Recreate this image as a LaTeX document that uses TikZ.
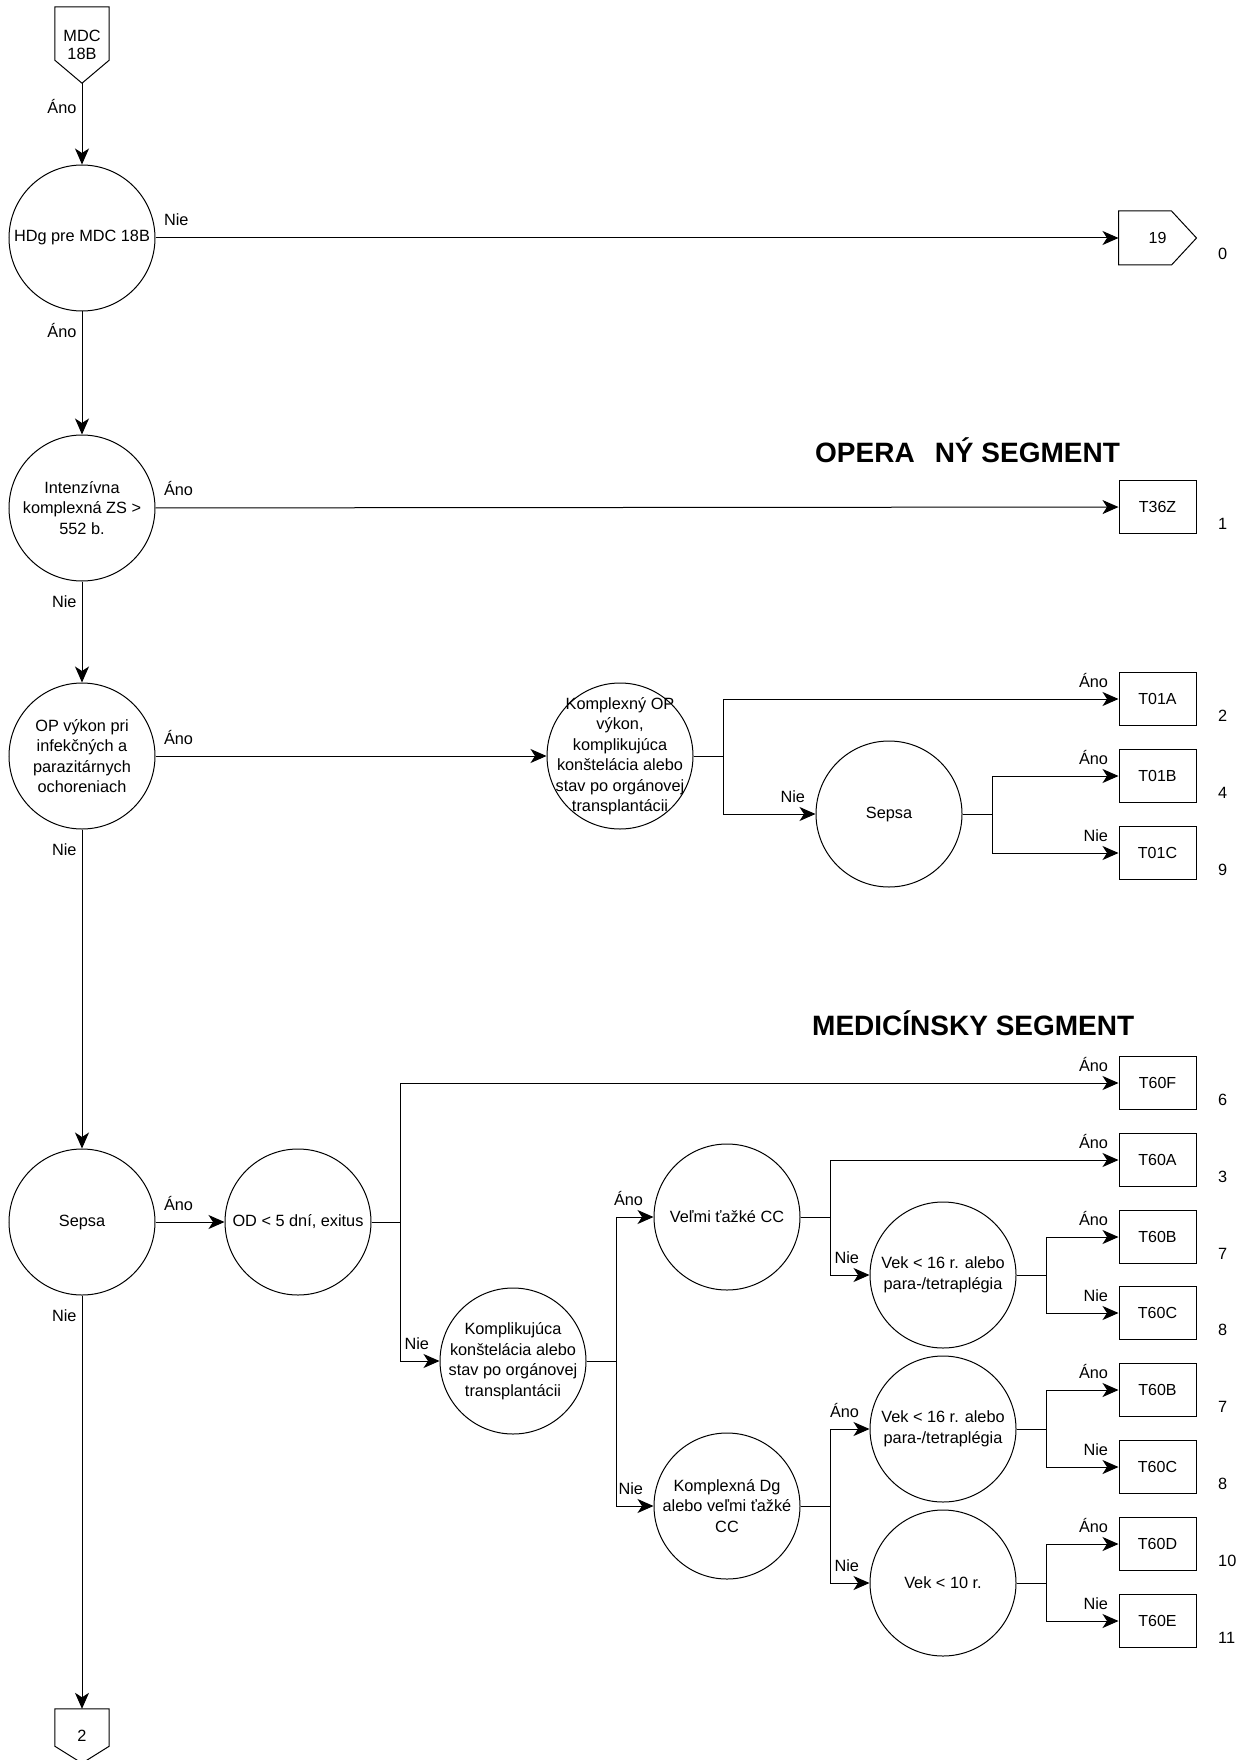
\documentclass[tikz,border=0pt]{standalone}
\usepackage{fontspec}
\setmainfont{Liberation Sans}
\usetikzlibrary{positioning, arrows.meta}

\begin{document}
\begin{tikzpicture}[
            x=1pt, y=-1pt,
            font=\fontsize{16.3}{20.5}\selectfont,
            dec/.style={draw, circle, minimum size=146pt, inner sep=-15pt, align=center, line width=1pt},
            grp/.style={draw, minimum width=77pt, minimum height=53pt, inner sep=0pt, font=\fontsize{16}{19}\selectfont, line width=1pt},
            offpage/.style={minimum width=54pt, inner sep=0pt, align=center, font=\fontsize{16.3}{18.5}\selectfont},
            num/.style={anchor=base west, inner sep=0pt},
            segment/.style={anchor=base west, inner sep=0pt, font=\fontsize{28}{30}\selectfont\bfseries},
            arrow/.style={-{Stealth[length=16pt, width=14pt, inset=4.5pt]}, line width=1pt},
            lblstart/.style={pos=0, anchor=base west, inner sep=0pt, xshift=8pt, yshift=12pt},
            lblend/.style={pos=1, anchor=base east, inner sep=0pt, xshift=-10pt, yshift=12pt},
            lbldown/.style={pos=0, anchor=base east, inner sep=0pt, xshift=-5pt, yshift=-26pt}
        ]
            \fill[white] (0,0) rectangle (1249,1760);
            \useasboundingbox (0,0) rectangle (1249,1760);

            % hlavny stlpec
            \node[offpage, minimum height=76pt] (mdc) at (82,45) {MDC\\18B};
            \draw[line width=1pt] (mdc.north west) -- (mdc.north east) -- ([yshift=23pt]mdc.south east) -- (mdc.south) -- ([yshift=23pt]mdc.south west) -- cycle;
            \node[dec] (hdg) at (82,238) {HDg pre MDC 18B};
            \node[dec] (izs) at (82,508) {Intenzívna\\komplexná ZS >\\552 b.};
            \node[dec] (opv) at (82,756) {OP výkon pri\\infekčných a\\parazitárnych\\ochoreniach};
            \node[dec] (sepm) at (82,1222) {Sepsa};
            \node[offpage, minimum height=54pt] (p2) at (82,1736) {2};
            \draw[line width=1pt] (p2.north west) -- (p2.north east) -- ([yshift=17pt]p2.south east) -- (p2.south) -- ([yshift=17pt]p2.south west) -- cycle;

            % operacny segment
            \node[segment] (opseg) at (815,462) {OPERA\hspace{20pt}NÝ SEGMENT};
            \node[dec] (kop) at (620,756) {Komplexný OP\\výkon,\\komplikujúca\\konštelácia alebo\\stav po orgánovej\\transplantácii};
            \node[dec] (sep1) at (889,814) {Sepsa};

            % medicinsky segment
            \node[segment] (medseg) at (812,1035) {MEDICÍNSKY SEGMENT};
            \node[dec] (od) at (298,1222) {OD < 5 dní, exitus};
            \node[dec] (kpl) at (513,1361) {Komplikujúca\\konštelácia alebo\\stav po orgánovej\\transplantácii};
            \node[dec] (vcc) at (727,1217) {Veľmi ťažké CC};
            \node[dec] (kdg) at (727,1506) {Komplexná Dg\\alebo veľmi ťažké\\CC};
            \node[dec] (vek1) at (943,1275) {Vek < 16 r. alebo\\para-/tetraplégia};
            \node[dec] (vek2) at (943,1429) {Vek < 16 r. alebo\\para-/tetraplégia};
            \node[dec] (vek10) at (943,1583) {Vek < 10 r.};

            % vysledky
            \node[grp, draw=none] (p19) at (1157.5,238) {19};
            \draw[line width=1pt] (p19.north west) -- ([xshift=-25pt]p19.north east) -- (p19.east) -- ([xshift=-25pt]p19.south east) -- (p19.south west) -- cycle;
            \node[grp] (t36z) at (1157.5,507) {T36Z};
            \node[grp] (t01a) at (1157.5,699) {T01A};
            \node[grp] (t01b) at (1157.5,776) {T01B};
            \node[grp] (t01c) at (1157.5,853) {T01C};
            \node[grp] (t60f) at (1157.5,1083) {T60F};
            \node[grp] (t60a) at (1157.5,1160) {T60A};
            \node[grp] (t60b) at (1157.5,1237) {T60B};
            \node[grp] (t60c) at (1157.5,1313) {T60C};
            \node[grp] (t60b2) at (1157.5,1390) {T60B};
            \node[grp] (t60c2) at (1157.5,1467) {T60C};
            \node[grp] (t60d) at (1157.5,1544) {T60D};
            \node[grp] (t60e) at (1157.5,1621) {T60E};

            \node[num] (n0) at (1218,260) {0};
            \node[num] (n1) at (1218,529) {1};
            \node[num] (n2) at (1218,721) {2};
            \node[num] (n4) at (1218,798) {4};
            \node[num] (n9) at (1218,875) {9};
            \node[num] (n6) at (1218,1105) {6};
            \node[num] (n3) at (1218,1182) {3};
            \node[num] (n7) at (1218,1259) {7};
            \node[num] (n8) at (1218,1335) {8};
            \node[num] (n7b) at (1218,1412) {7};
            \node[num] (n8b) at (1218,1489) {8};
            \node[num] (n10) at (1218,1566) {10};
            \node[num] (n11) at (1218,1643) {11};

            \draw[arrow] (mdc.south) -- node[lbldown, yshift=-4pt]{Áno} (hdg);
            \draw[arrow] (hdg) -- node[lblstart]{Nie} (p19);
            \draw[arrow] (hdg) -- node[lbldown]{Áno} (izs);
            \draw[arrow] (izs) -- node[lblstart]{Áno} (t36z);
            \draw[arrow] (izs) -- node[lbldown]{Nie} (opv);
            \draw[arrow] (opv) -- node[lblstart]{Áno} (kop);
            \draw[arrow] (opv) -- node[lbldown]{Nie} (sepm);
            \draw[arrow] (kop.east) -- ++(30,0) |- node[lblend]{Áno} (t01a);
            \draw[arrow] (kop.east) -- ++(30,0) |- node[lblend]{Nie} (sep1);
            \draw[arrow] (sep1.east) -- ++(30,0) |- node[lblend]{Áno} (t01b);
            \draw[arrow] (sep1.east) -- ++(30,0) |- node[lblend]{Nie} (t01c);

            \draw[arrow] (sepm) -- node[lblstart]{Áno} (od);
            \draw[arrow] (sepm) -- node[lbldown]{Nie} (p2);
            \draw[arrow] (od.east) -- ++(29,0) |- node[lblend]{Áno} (t60f);
            \draw[arrow] (od.east) -- ++(29,0) |- node[lblend]{Nie} (kpl);
            \draw[arrow] (kpl.east) -- ++(30,0) |- node[lblend]{Áno} (vcc);
            \draw[arrow] (kpl.east) -- ++(30,0) |- node[lblend]{Nie} (kdg);
            \draw[arrow] (vcc.east) -- ++(30,0) |- node[lblend]{Áno} (t60a);
            \draw[arrow] (vcc.east) -- ++(30,0) |- node[lblend]{Nie} (vek1);
            \draw[arrow] (vek1.east) -- ++(30,0) |- node[lblend]{Áno} (t60b);
            \draw[arrow] (vek1.east) -- ++(30,0) |- node[lblend]{Nie} (t60c);
            \draw[arrow] (kdg.east) -- ++(30,0) |- node[lblend]{Áno} (vek2);
            \draw[arrow] (kdg.east) -- ++(30,0) |- node[lblend]{Nie} (vek10);
            \draw[arrow] (vek2.east) -- ++(30,0) |- node[lblend]{Áno} (t60b2);
            \draw[arrow] (vek2.east) -- ++(30,0) |- node[lblend]{Nie} (t60c2);
            \draw[arrow] (vek10.east) -- ++(30,0) |- node[lblend]{Áno} (t60d);
            \draw[arrow] (vek10.east) -- ++(30,0) |- node[lblend]{Nie} (t60e);
        \end{tikzpicture}
\end{document}
